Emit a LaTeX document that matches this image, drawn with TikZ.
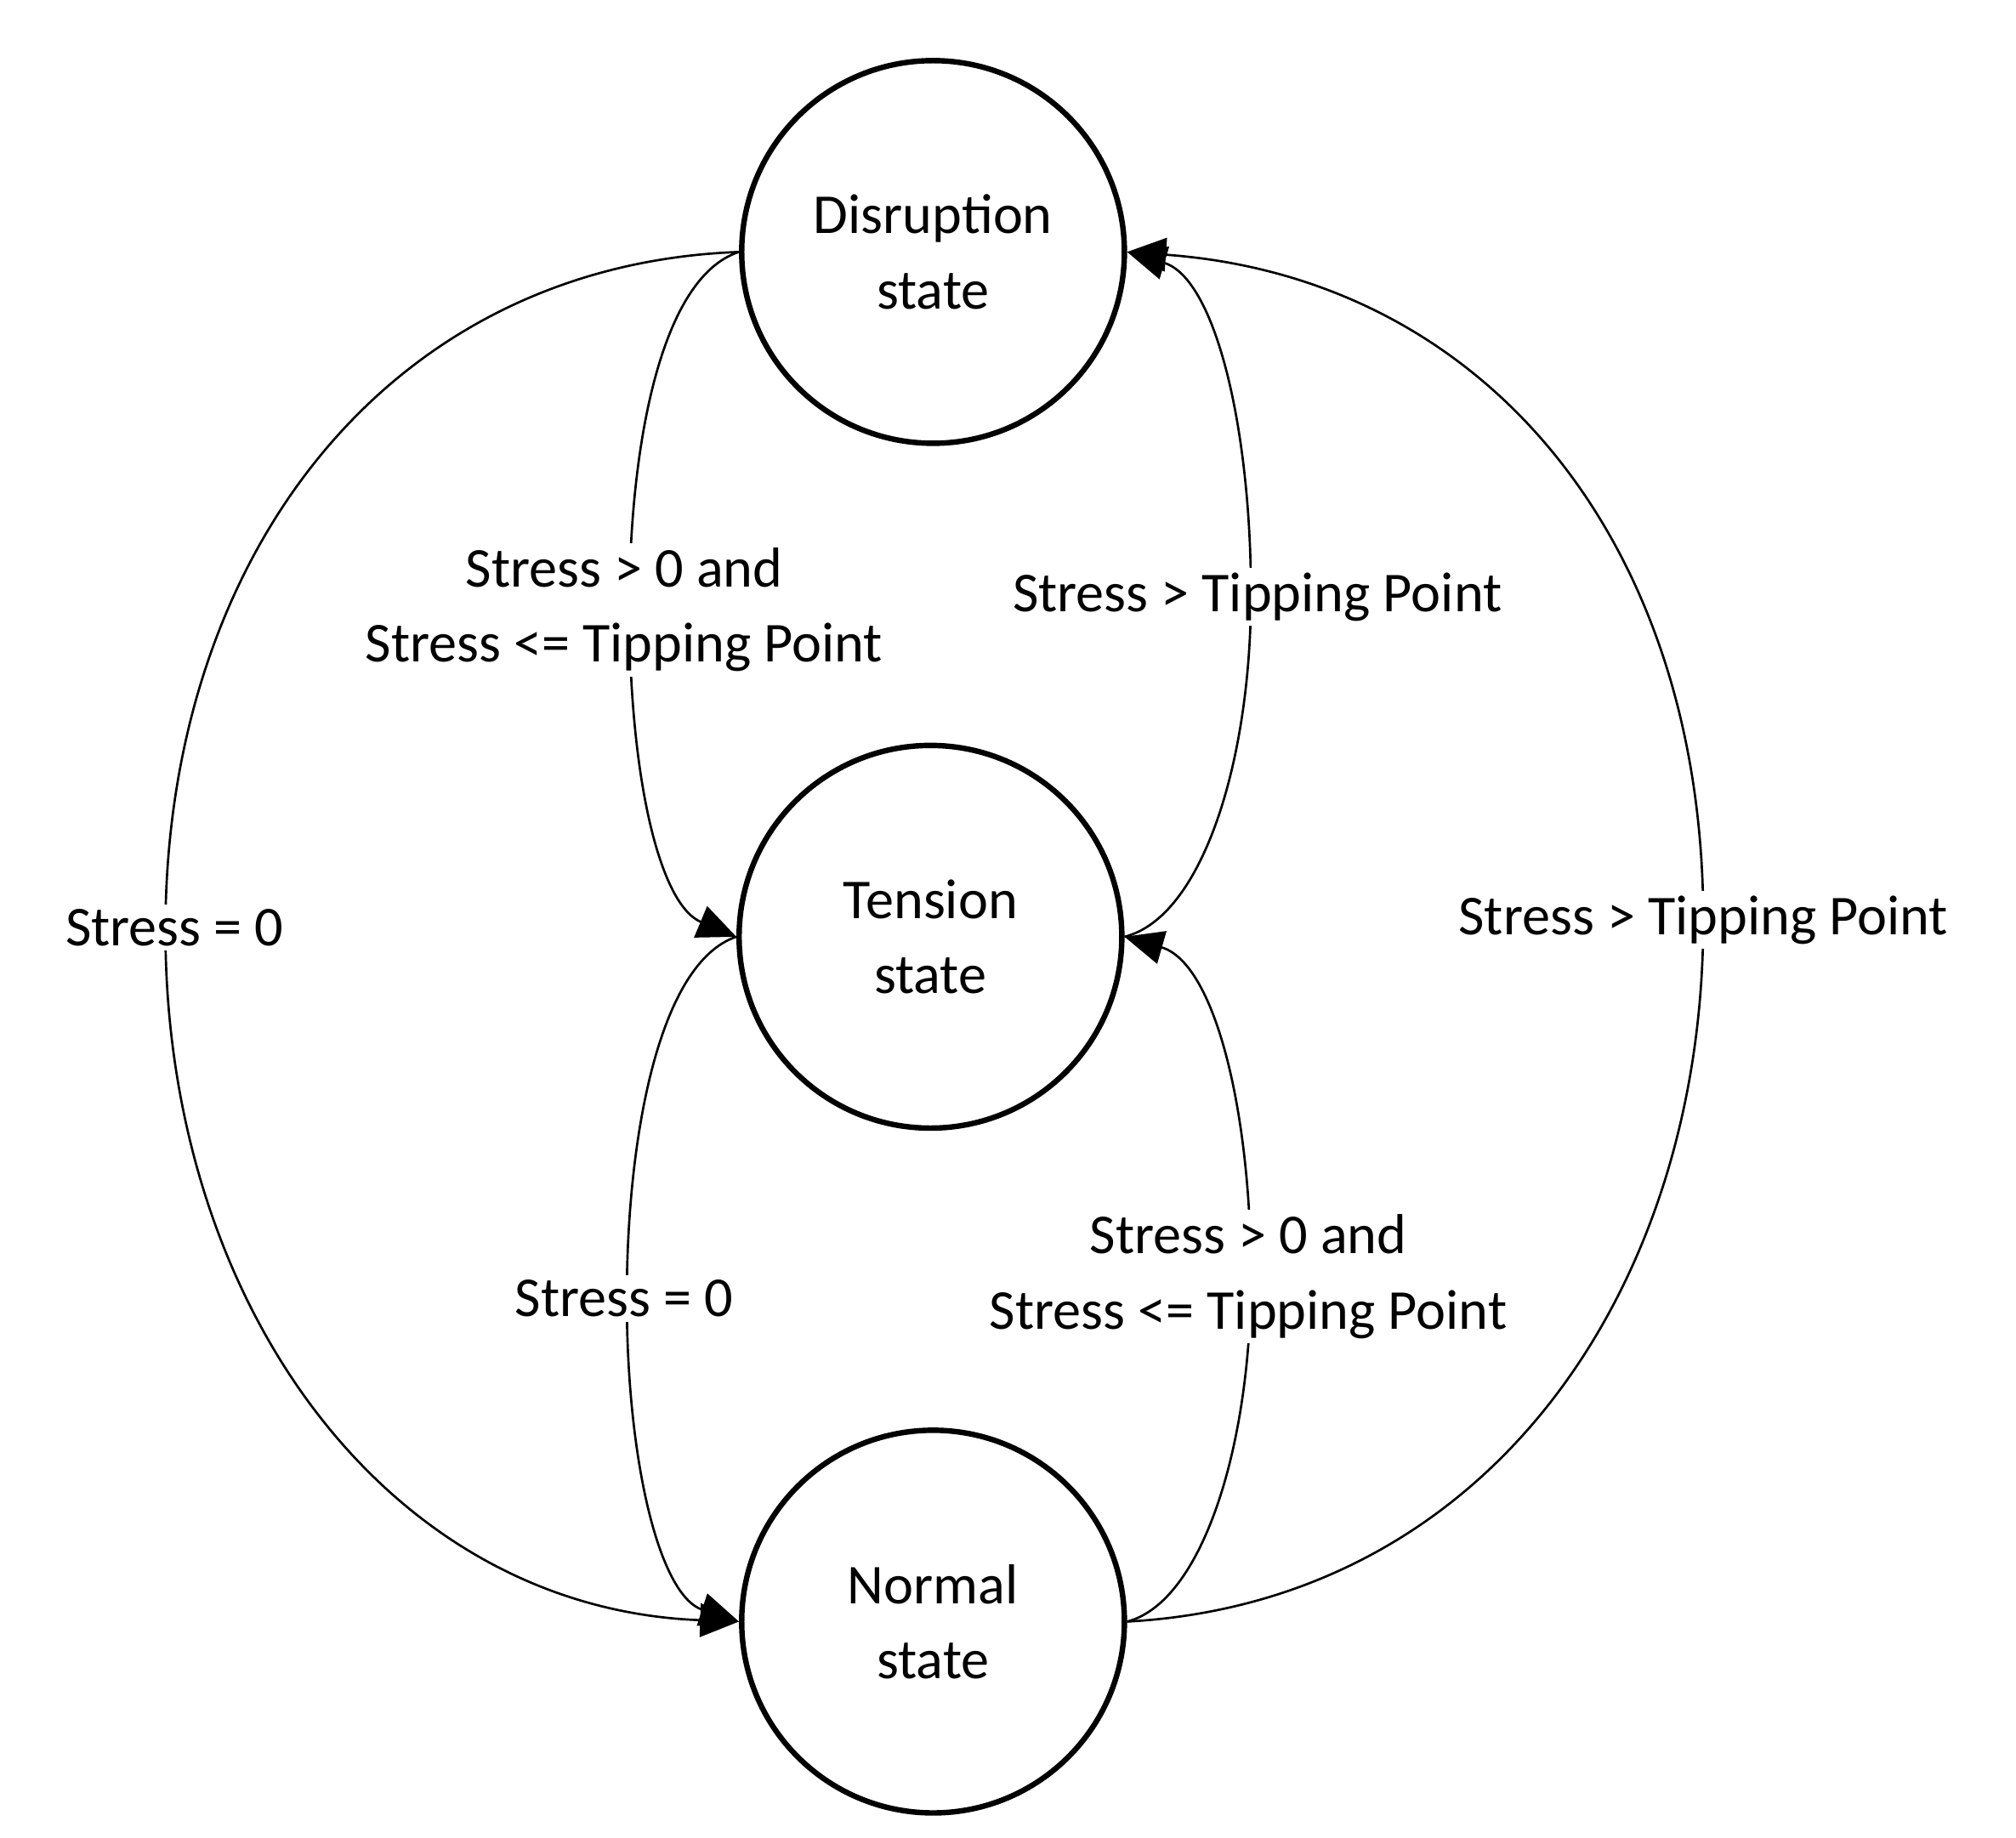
\documentclass[tikz,border=0pt]{standalone}
\usepackage{fontspec}
\setmainfont{Carlito}
\usetikzlibrary{arrows.meta}
\begin{document}
\begin{tikzpicture}[x=0.01cm,y=-0.01cm,
  state/.style={circle,draw,line width=1.2pt,minimum size=2.96cm,inner sep=0pt,align=center,font=\fontsize{12.4}{16.5}\selectfont},
  edge/.style={line width=0.5pt,-{Triangle[length=0.3cm,width=0.26cm]}},
  lbl/.style={fill=white,inner sep=1pt,align=center,font=\fontsize{12.4}{16.5}\selectfont}]
\useasboundingbox (0,0) rectangle (1560,1422);
\node[state] (D) at (722,195) {Disruption\\state};
\node[state] (T) at (720,725) {Tension\\state};
\node[state] (N) at (722,1255) {Normal\\state};
% left big
\draw[edge] (D.west) .. controls (300,205) and (128,430) .. (128,720)
  .. controls (128,1010) and (300,1245) .. (N.west);
\node[lbl] (l1) at (135,718) {Stress = 0};
% D -> T left
\draw[edge] (D.west) .. controls (510,215) and (487,350) .. (487,470)
  .. controls (487,600) and (510,700) .. (T.west);
\node[lbl] (l2) at (483,472) {Stress > 0 and\\Stress <= Tipping Point};
% T -> N left
\draw[edge] (T.west) .. controls (510,745) and (485,880) .. (485,1005)
  .. controls (485,1130) and (510,1235) .. (N.west);
\node[lbl] (l3) at (483,1005) {Stress = 0};
% T -> D right
\draw[edge] (T.east) .. controls (930,710) and (968,590) .. (968,460)
  .. controls (968,330) and (940,215) .. (D.east);
\node[lbl] (l4) at (973,462) {Stress > Tipping Point};
% N -> T right
\draw[edge] (N.east) .. controls (930,1240) and (968,1120) .. (968,988)
  .. controls (968,860) and (940,745) .. (T.east);
\node[lbl] (l5) at (966,988) {Stress > 0 and\\Stress <= Tipping Point};
% N -> D right big
\draw[edge] (N.east) .. controls (1150,1240) and (1318,1000) .. (1318,712)
  .. controls (1318,420) and (1150,215) .. (D.east);
\node[lbl] (l6) at (1318,712) {Stress > Tipping Point};
\end{tikzpicture}
\end{document}
